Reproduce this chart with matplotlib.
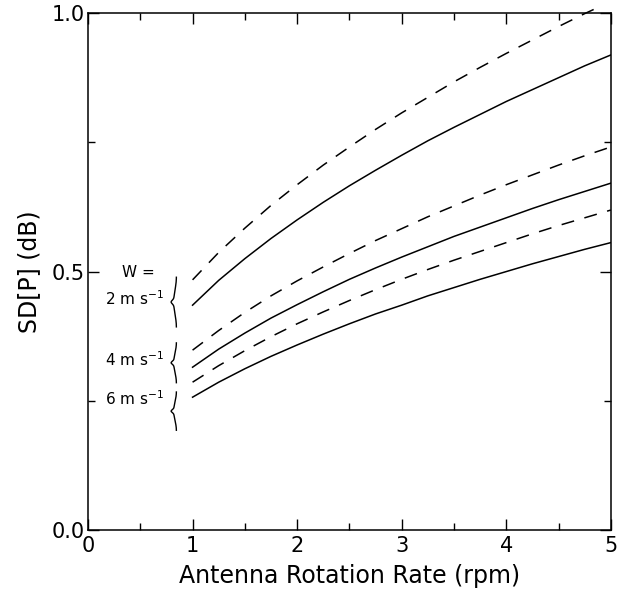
import numpy as np
import matplotlib
matplotlib.use("Agg")
import matplotlib.pyplot as plt
from matplotlib.ticker import MultipleLocator, FixedLocator

# rotation rate (rpm)
rpm = [1.0, 1.25, 1.5, 1.75, 2.0, 2.25, 2.5, 2.75, 3.0,
       3.25, 3.5, 3.75, 4.0, 4.25, 4.5, 4.75, 5.0]
rpm_top_dash = rpm[:-1] + [4.9]

# SD[P] in dB, solid and dashed curves for each wind speed
sd_w2_solid = [0.435, 0.483, 0.525, 0.564, 0.600, 0.634, 0.666, 0.696, 0.725,
               0.753, 0.779, 0.804, 0.829, 0.852, 0.875, 0.898, 0.919]
sd_w2_dash = [0.484, 0.537, 0.584, 0.628, 0.668, 0.706, 0.741, 0.775, 0.807,
              0.837, 0.867, 0.895, 0.922, 0.948, 0.974, 0.999, 1.013]
sd_w4_solid = [0.315, 0.350, 0.381, 0.410, 0.436, 0.461, 0.485, 0.507, 0.528,
               0.548, 0.568, 0.586, 0.604, 0.622, 0.639, 0.655, 0.671]
sd_w4_dash = [0.348, 0.386, 0.421, 0.453, 0.482, 0.509, 0.535, 0.560, 0.583,
              0.606, 0.627, 0.648, 0.668, 0.687, 0.706, 0.724, 0.741]
sd_w6_solid = [0.257, 0.286, 0.312, 0.336, 0.358, 0.379, 0.399, 0.418, 0.435,
               0.453, 0.469, 0.485, 0.500, 0.515, 0.529, 0.543, 0.556]
sd_w6_dash = [0.286, 0.318, 0.347, 0.374, 0.399, 0.422, 0.444, 0.465, 0.485,
              0.504, 0.522, 0.539, 0.556, 0.573, 0.589, 0.604, 0.619]

wind_labels = ["2 m s$^{-1}$", "4 m s$^{-1}$", "6 m s$^{-1}$"]
label_y = [0.447, 0.330, 0.255]
brace_spans = [(0.393, 0.489), (0.285, 0.362), (0.193, 0.267)]

plt.rcParams['font.family'] = ['DejaVu Sans']

fig = plt.figure(figsize=(6.22, 5.96), dpi=100)
ax = fig.add_axes([0.1415, 0.1107, 0.8405, 0.8673])

dash = (8.5, 7)
ax.plot(rpm, sd_w2_solid, color='black', lw=1.1)
ax.plot(rpm_top_dash, sd_w2_dash, color='black', lw=1.1, dashes=dash, clip_on=False)
ax.plot(rpm, sd_w4_solid, color='black', lw=1.1)
ax.plot(rpm, sd_w4_dash, color='black', lw=1.1, dashes=dash)
ax.plot(rpm, sd_w6_solid, color='black', lw=1.1)
ax.plot(rpm, sd_w6_dash, color='black', lw=1.1, dashes=dash)


def draw_brace(ax, x, y0, y1, width=0.05):
    """curly brace opening to the right, drawn in data coords"""
    t = np.linspace(0, 1, 200)
    s = np.where(t < 0.5, t * 2, (1 - t) * 2)
    bump = 0.5 - 0.5 * np.cos(np.pi * s)
    xs = x + width * (1 - bump) * 0.5 - width * 0.5 * np.exp(-((t - 0.5) / 0.05) ** 2)
    ys = y0 + (y1 - y0) * t
    ax.plot(xs, ys, color='black', lw=1.0, clip_on=False)


for lo, hi in brace_spans:
    draw_brace(ax, 0.82, lo, hi)

ax.text(0.48, 0.498, "W =", ha='center', va='center', fontsize=11)
for lab, yy in zip(wind_labels, label_y):
    ax.text(0.73, yy, lab, ha='right', va='center', fontsize=11)

ax.set_xlim(0, 5)
ax.set_ylim(0, 1.0)
ax.xaxis.set_major_locator(MultipleLocator(1))
ax.xaxis.set_minor_locator(MultipleLocator(0.5))
ax.yaxis.set_major_locator(FixedLocator([0.0, 0.5, 1.0]))
ax.yaxis.set_minor_locator(FixedLocator([0.25, 0.75]))
ax.set_yticklabels(["0.0", "0.5", "1.0"])
ax.tick_params(which='both', direction='in', top=True, right=True, labelsize=15, width=1.0)
ax.tick_params(which='major', length=8)
ax.tick_params(which='minor', length=5)
ax.tick_params(axis='y', pad=2)
ax.tick_params(axis='x', pad=4)
for sp in ax.spines.values():
    sp.set_linewidth(1.1)

ax.set_xlabel("Antenna Rotation Rate (rpm)", fontsize=17, labelpad=6)
ax.set_ylabel("SD[P] (dB)", fontsize=17, labelpad=8)

fig.savefig("out.png", dpi=100)
